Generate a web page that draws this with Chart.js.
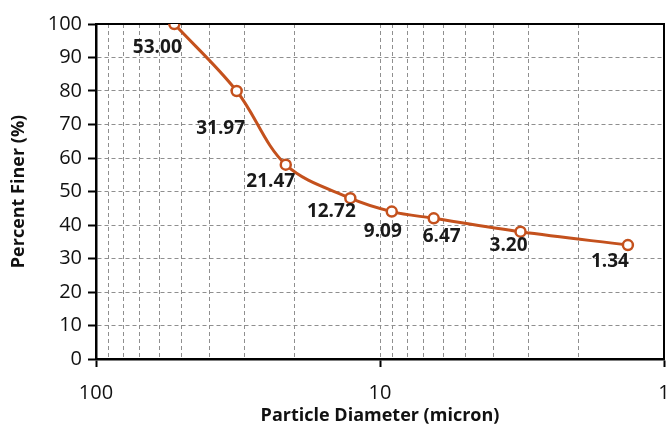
<!doctype html>
<html>
<head>
  <meta charset="utf-8">
  <title>Particle size distribution</title>
  <script src="https://cdn.jsdelivr.net/npm/chart.js@4.4.1/dist/chart.umd.min.js"></script>
  <style>
    html, body { margin: 0; padding: 0; background: #fff; }
    #wrap { width: 667px; height: 426px; }
  </style>
</head>
<body>
  <div id="wrap"><canvas id="myChart" width="667" height="426"></canvas></div>
  <script>
    // data
    var diameters = [53.00, 31.97, 21.47, 12.72, 9.09, 6.47, 3.20, 1.34];
    var percentFiner = [100, 80, 58, 48, 44, 42, 38, 34];
    var pointLabels = ['53.00', '31.97', '21.47', '12.72', '9.09', '6.47', '3.20', '1.34'];
    var xTicks = [1, 2, 3, 4, 5, 6, 7, 8, 9, 10, 20, 30, 40, 50, 60, 70, 80, 90, 100];
    var xTickLabels = { 1: '1', 10: '10', 100: '100' };

    // where each label sits relative to its point (px)
    var labelOffsets = [[-17, 24], [-16, 38], [-15, 17], [-19, 13], [-9, 20], [8, 18], [-12, 14], [-18, 16]];

    var lineColor = '#C4511D';
    var gridColor = '#8f8f8f';

    var pointLabelPlugin = {
      id: 'pointLabels',
      afterDatasetsDraw: function (chart) {
        var ctx = chart.ctx;
        var meta = chart.getDatasetMeta(0);
        ctx.save();
        ctx.font = 'bold 19px "Open Sans"';
        ctx.fillStyle = '#1a1a1a';
        ctx.textAlign = 'center';
        ctx.textBaseline = 'middle';
        meta.data.forEach(function (pt, i) {
          ctx.fillText(pointLabels[i], pt.x + labelOffsets[i][0], pt.y + labelOffsets[i][1]);
        });
        ctx.restore();
      }
    };

    // top and right edge of the plot frame
    var framePlugin = {
      id: 'frame',
      beforeDatasetsDraw: function (chart) {
        var a = chart.chartArea, ctx = chart.ctx;
        ctx.save();
        ctx.strokeStyle = '#000';
        ctx.lineWidth = 2;
        ctx.beginPath();
        ctx.moveTo(a.left, a.top);
        ctx.lineTo(a.right, a.top);
        ctx.lineTo(a.right, a.bottom);
        ctx.stroke();
        ctx.restore();
      }
    };

    var ctx = document.getElementById('myChart').getContext('2d');
    var chart = new Chart(ctx, {
      type: 'line',
      data: {
        datasets: [{
          data: diameters.map(function (d, i) { return { x: d, y: percentFiner[i] }; }),
          borderColor: lineColor,
          borderWidth: 3,
          backgroundColor: '#fff',
          pointBackgroundColor: '#fff',
          pointBorderColor: lineColor,
          pointBorderWidth: 2.5,
          pointRadius: 5,
          tension: 0.35,
          fill: false
        }]
      },
      plugins: [framePlugin, pointLabelPlugin],
      options: {
        responsive: false,
        animation: false,
        layout: { autoPadding: false, padding: { top: 24, right: 3, left: 0, bottom: 0 } },
        plugins: { legend: { display: false }, tooltip: { enabled: false } },
        scales: {
          x: {
            type: 'logarithmic',
            reverse: true,
            min: 1,
            max: 100,
            afterBuildTicks: function (axis) {
              axis.ticks = xTicks.map(function (v) { return { value: v, major: !!xTickLabels[v] }; });
            },
            afterFit: function (axis) { axis.height = 67; },
            ticks: {
              autoSkip: false,
              maxRotation: 0,
              padding: 14,
              color: '#111',
              font: { family: 'Open Sans', size: 20 },
              callback: function (v) { return xTickLabels[v] || ''; }
            },
            grid: {
              color: function (c) {
                var v = c.tick && c.tick.value;
                return (v === 1 || v === 100) ? 'rgba(0,0,0,0)' : gridColor;
              },
              lineWidth: 1,
              tickLength: 8,
              tickWidth: 2,
              tickColor: function (c) {
                return (c.tick && xTickLabels[c.tick.value]) ? '#000' : 'rgba(0,0,0,0)';
              }
            },
            border: { display: true, color: '#000', width: 2.5, dash: [4, 3] },
            title: {
              display: true,
              text: 'Particle Diameter (micron)',
              color: '#111',
              font: { family: 'Open Sans', size: 18, weight: 'bold' },
              padding: { top: 0, bottom: -1 }
            }
          },
          y: {
            min: 0,
            max: 100,
            afterFit: function (axis) { axis.width = 96; },
            ticks: {
              stepSize: 10,
              padding: 6,
              color: '#111',
              font: { family: 'Open Sans', size: 20 }
            },
            grid: {
              color: function (c) {
                var v = c.tick && c.tick.value;
                return (v === 0 || v === 100) ? 'rgba(0,0,0,0)' : gridColor;
              },
              lineWidth: 1,
              tickLength: 8,
              tickWidth: 2,
              tickColor: '#000'
            },
            border: { display: true, color: '#000', width: 2.5, dash: [4, 3] },
            title: {
              display: true,
              text: 'Percent Finer (%)',
              color: '#111',
              font: { family: 'Open Sans', size: 18, weight: 'bold' },
              padding: { top: 8, bottom: 0 }
            }
          }
        }
      }
    });
  </script>
</body>
</html>
